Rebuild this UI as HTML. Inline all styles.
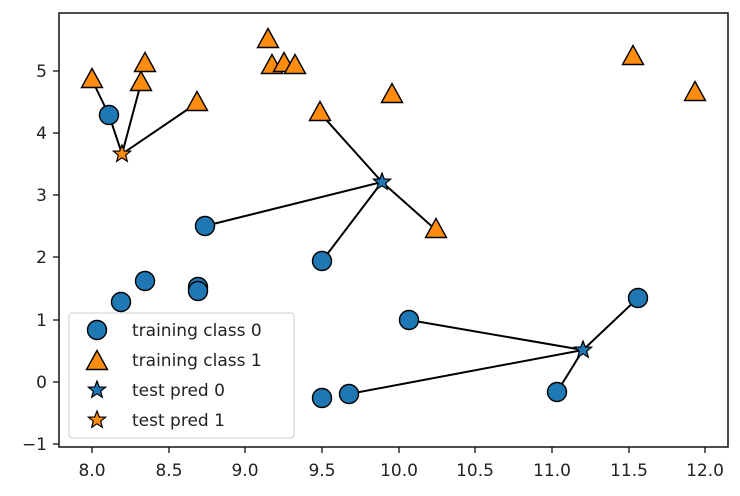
<!DOCTYPE html>
<html><head><style>body{margin:0;background:#fff}svg{display:block}text{font-family:"DejaVu Sans","Liberation Sans",sans-serif;fill:#222}</style></head><body>
<svg width="740" height="496" viewBox="0 0 740 496">
<defs>
<circle id="c" r="9.5" fill="#1f77b4" stroke="#000" stroke-width="1.4"/>
<polygon id="t" points="0,-11.5 10.5,7.5 -10.5,7.5" fill="#ff8c0e" stroke="#000" stroke-width="1.4"/>
<polygon id="s" points="0,-9 2.3,-3 8.6,-2.8 3.7,1.2 5.3,7.3 0,3.8 -5.3,7.3 -3.7,1.2 -8.6,-2.8 -2.3,-3" stroke="#000" stroke-width="1.2"/>
</defs>
<rect x="59" y="13" width="669" height="434" fill="#fff" stroke="#111" stroke-width="1.5"/>
<g stroke="#000" stroke-width="2" fill="none">
<line x1="122" y1="154" x2="109" y2="115"/><line x1="109" y1="115" x2="94" y2="84"/>
<line x1="122" y1="154" x2="141" y2="83"/><line x1="122" y1="154" x2="197" y2="103"/>
<line x1="382" y1="182" x2="205" y2="226"/><line x1="382" y1="182" x2="322" y2="261"/>
<line x1="382" y1="182" x2="320" y2="113"/><line x1="382" y1="182" x2="436" y2="230"/>
<line x1="583" y1="350" x2="409" y2="320"/><line x1="583" y1="350" x2="349" y2="394"/>
<line x1="583" y1="350" x2="557" y2="392"/><line x1="583" y1="350" x2="638" y2="298"/>
</g>
<g>
<use href="#c" x="109" y="115"/><use href="#c" x="121" y="302"/><use href="#c" x="145" y="281"/>
<use href="#c" x="198" y="287"/><use href="#c" x="198" y="291"/><use href="#c" x="205" y="226"/>
<use href="#c" x="322" y="261"/><use href="#c" x="322" y="398"/><use href="#c" x="349" y="394"/>
<use href="#c" x="409" y="320"/><use href="#c" x="557" y="392"/><use href="#c" x="638" y="298"/>
<use href="#t" x="92" y="80"/><use href="#t" x="141" y="83"/><use href="#t" x="145" y="64"/>
<use href="#t" x="197" y="103"/><use href="#t" x="268" y="40"/><use href="#t" x="272" y="66"/>
<use href="#t" x="284" y="64"/><use href="#t" x="295" y="66"/><use href="#t" x="320" y="113"/>
<use href="#t" x="392" y="95"/><use href="#t" x="436" y="230"/><use href="#t" x="633" y="57"/>
<use href="#t" x="695" y="93"/>
<use href="#s" x="122" y="154" fill="#ff8c0e"/><use href="#s" x="382" y="182" fill="#1f77b4"/><use href="#s" x="583" y="350" fill="#1f77b4"/>
</g>
<g stroke="#111" stroke-width="1.3">
<line x1="92" y1="447" x2="92" y2="453"/><line x1="169" y1="447" x2="169" y2="453"/><line x1="245" y1="447" x2="245" y2="453"/>
<line x1="322" y1="447" x2="322" y2="453"/><line x1="399" y1="447" x2="399" y2="453"/><line x1="475" y1="447" x2="475" y2="453"/>
<line x1="552" y1="447" x2="552" y2="453"/><line x1="629" y1="447" x2="629" y2="453"/><line x1="705" y1="447" x2="705" y2="453"/>
<line x1="53" y1="71" x2="59" y2="71"/><line x1="53" y1="133" x2="59" y2="133"/><line x1="53" y1="195" x2="59" y2="195"/>
<line x1="53" y1="257" x2="59" y2="257"/><line x1="53" y1="320" x2="59" y2="320"/><line x1="53" y1="382" x2="59" y2="382"/>
<line x1="53" y1="444" x2="59" y2="444"/>
</g>
<g font-size="17" text-anchor="middle">
<text x="92" y="476">8.0</text><text x="169" y="476">8.5</text><text x="245" y="476">9.0</text>
<text x="322" y="476">9.5</text><text x="399" y="476">10.0</text><text x="475" y="476">10.5</text>
<text x="552" y="476">11.0</text><text x="629" y="476">11.5</text><text x="705" y="476">12.0</text>
</g>
<g font-size="17" text-anchor="end">
<text x="47" y="77">5</text><text x="47" y="139">4</text><text x="47" y="201">3</text>
<text x="47" y="263">2</text><text x="47" y="326">1</text><text x="47" y="388">0</text><text x="47" y="450">−1</text>
</g>
<rect x="69" y="313" width="225" height="125" rx="3" fill="#fff" fill-opacity="0.85" stroke="#ccc"/>
<use href="#c" x="97" y="330"/><use href="#t" x="97" y="362"/>
<use href="#s" x="97" y="390" fill="#1f77b4"/><use href="#s" x="97" y="420" fill="#ff8c0e"/>
<g font-size="17">
<text x="132" y="336">training class 0</text><text x="132" y="366">training class 1</text>
<text x="132" y="396">test pred 0</text><text x="132" y="426">test pred 1</text>
</g>
</svg>
</body></html>
